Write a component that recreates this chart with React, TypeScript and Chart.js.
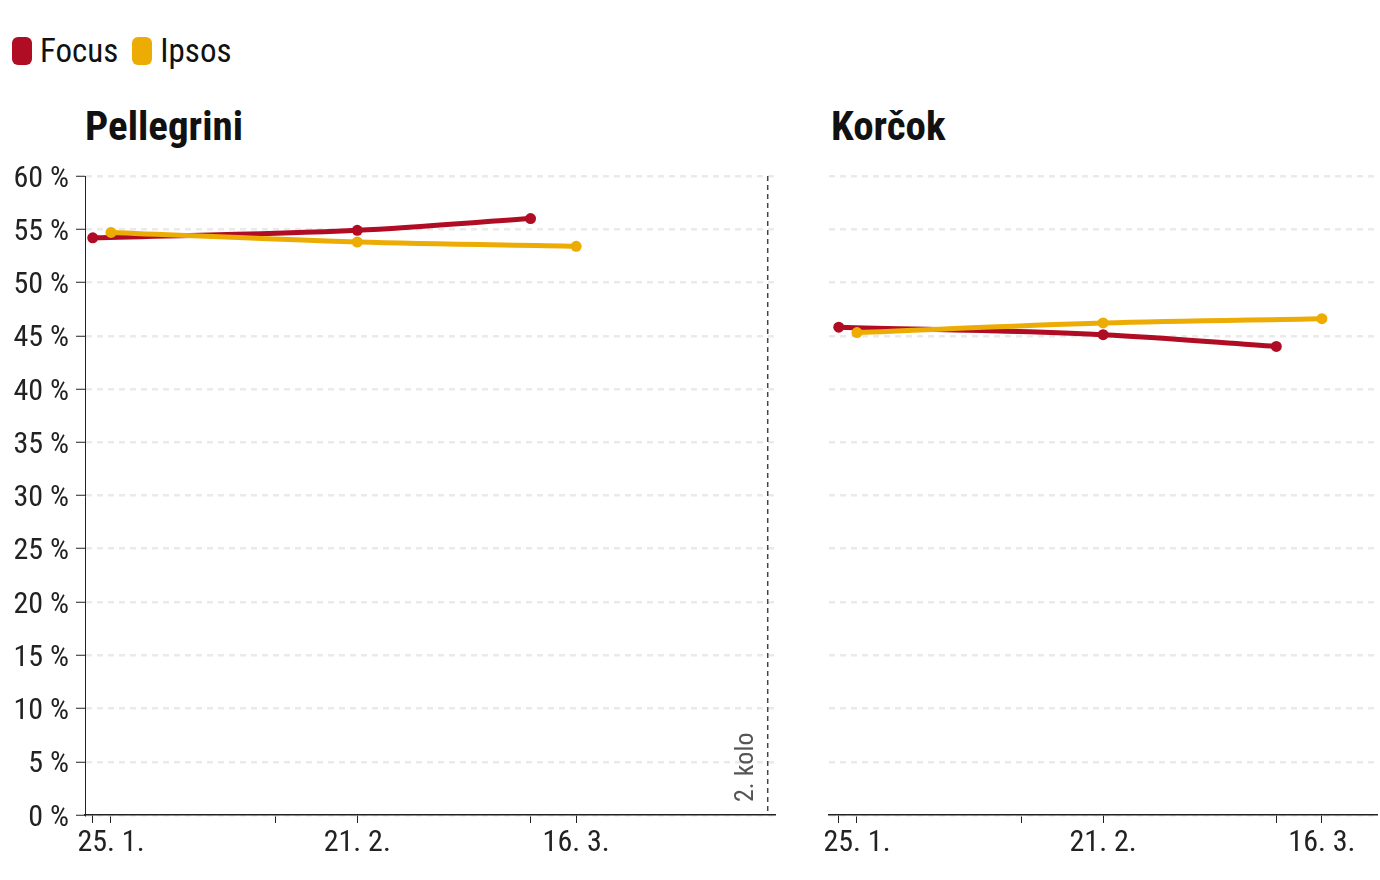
import { useEffect, useRef } from "react";
import Chart from "chart.js/auto";
import type { ChartConfiguration, Plugin } from "chart.js";

// dni v roku 2024 (1 = 1. 1.)
const FOCUS_DAYS = [23, 52, 71];
const IPSOS_DAYS = [25, 52, 76];

const PELLEGRINI_FOCUS = [54.2, 54.9, 56.0];
const PELLEGRINI_IPSOS = [54.7, 53.8, 53.4];
const KORCOK_FOCUS = [45.8, 45.1, 44.0];
const KORCOK_IPSOS = [45.3, 46.2, 46.6];

const TICK_DAYS = [23, 25, 43, 52, 71, 76];
const LABEL_DAYS = [25, 52, 76];
const LABEL_TEXTS = ["25. 1.", "21. 2.", "16. 3."];

const ROUND2_DAY = 97;
const ROUND2_LABEL = "2. kolo";

const FOCUS_COLOR = "#b00c23";
const IPSOS_COLOR = "#edac04";
const FONT = "'Roboto Condensed', Roboto, 'Noto Sans', sans-serif";

const round2Plugin: Plugin<"line"> = {
  id: "round2",
  afterDatasetsDraw(chart) {
    const { ctx, chartArea } = chart;
    const x = chart.scales.x.getPixelForValue(ROUND2_DAY);
    ctx.save();
    ctx.strokeStyle = "#444";
    ctx.lineWidth = 1.5;
    ctx.setLineDash([5, 4]);
    ctx.beginPath();
    ctx.moveTo(x, chartArea.top);
    ctx.lineTo(x, chartArea.bottom);
    ctx.stroke();
    ctx.setLineDash([]);
    ctx.translate(x - 21, chartArea.bottom - 13);
    ctx.rotate(-Math.PI / 2);
    ctx.fillStyle = "#555";
    ctx.font = `26px ${FONT}`;
    ctx.textAlign = "left";
    ctx.textBaseline = "middle";
    ctx.fillText(ROUND2_LABEL, 0, 0);
    ctx.restore();
  },
};

interface PanelProps {
  focus: number[];
  ipsos: number[];
  xMin: number;
  xMax: number;
  showY: boolean;
  showRound2: boolean;
  padLeft: number;
  padRight: number;
}

function Panel({ focus, ipsos, xMin, xMax, showY, showRound2, padLeft, padRight }: PanelProps) {
  const canvasRef = useRef<HTMLCanvasElement | null>(null);

  useEffect(() => {
    if (!canvasRef.current) return;
    Chart.defaults.font.family = FONT;

    const config: ChartConfiguration<"line"> = {
      type: "line",
      data: {
        datasets: [
          {
            label: "Focus",
            data: FOCUS_DAYS.map((d, i) => ({ x: d, y: focus[i] })),
            borderColor: FOCUS_COLOR,
            backgroundColor: FOCUS_COLOR,
            borderWidth: 5,
            pointRadius: 5.5,
            pointBorderWidth: 0,
            cubicInterpolationMode: "monotone",
            order: 2,
          },
          {
            label: "Ipsos",
            data: IPSOS_DAYS.map((d, i) => ({ x: d, y: ipsos[i] })),
            borderColor: IPSOS_COLOR,
            backgroundColor: IPSOS_COLOR,
            borderWidth: 5,
            pointRadius: 5.5,
            pointBorderWidth: 0,
            cubicInterpolationMode: "monotone",
            order: 1,
          },
        ],
      },
      options: {
        animation: false,
        responsive: true,
        maintainAspectRatio: false,
        layout: { padding: { top: 16, left: padLeft, right: padRight, bottom: 0 } },
        plugins: {
          legend: { display: false },
          tooltip: { enabled: false },
        },
        scales: {
          x: {
            type: "linear",
            min: xMin,
            max: xMax,
            afterBuildTicks: (scale) => {
              scale.ticks = TICK_DAYS.map((v) => ({ value: v }));
            },
            afterFit: (scale) => {
              scale.height = 50;
              scale.paddingLeft = 0;
              scale.paddingRight = 0;
            },
            grid: {
              drawOnChartArea: false,
              drawTicks: true,
              tickLength: 8,
              tickColor: "#222",
              tickWidth: 1,
            },
            border: { display: true, color: "#222", width: 1.5 },
            ticks: {
              autoSkip: false,
              maxRotation: 0,
              padding: 2,
              color: "#222",
              font: { size: 30 },
              callback: (v) => {
                const i = LABEL_DAYS.indexOf(Number(v));
                return i >= 0 ? LABEL_TEXTS[i] : "";
              },
            },
          },
          y: {
            min: 0,
            max: 60,
            afterFit: (scale) => {
              scale.width = showY ? 85 : 0;
              scale.paddingTop = 0;
              scale.paddingBottom = 0;
            },
            grid: {
              color: "#eaeaea",
              lineWidth: 2.5,
              drawTicks: showY,
              tickLength: 9,
              tickColor: "#222",
              tickWidth: 1,
            },
            border: { display: showY, color: "#222", width: 1, dash: [6, 5] },
            ticks: {
              display: showY,
              stepSize: 5,
              padding: 7,
              labelOffset: 3,
              color: "#222",
              font: { size: 30 },
              callback: (v) => `${v} %`,
            },
          },
        },
      },
      plugins: showRound2 ? [round2Plugin] : [],
    };

    const chart = new Chart(canvasRef.current, config);
    return () => {
      chart.destroy();
    };
  }, [focus, ipsos, xMin, xMax, showY, showRound2, padLeft, padRight]);

  return <canvas ref={canvasRef} />;
}

function LegendItem({ color, text }: { color: string; text: string }) {
  return (
    <div style={{ display: "flex", alignItems: "center", marginRight: 14 }}>
      <span
        style={{
          display: "inline-block",
          width: 20,
          height: 28,
          borderRadius: 6,
          background: color,
          marginRight: 8,
        }}
      />
      <span style={{ fontSize: 33, color: "#111", lineHeight: "33px" }}>{text}</span>
    </div>
  );
}

const titleStyle: React.CSSProperties = {
  position: "absolute",
  top: 106,
  fontSize: 41,
  fontWeight: 700,
  lineHeight: "41px",
  color: "#111",
};

export default function App() {
  return (
    <div
      style={{
        position: "fixed",
        left: 0,
        top: 0,
        width: 1380,
        height: 880,
        overflow: "hidden",
        background: "#fff",
        fontFamily: FONT,
      }}
    >
      <div style={{ position: "absolute", left: 12, top: 34, display: "flex" }}>
        <LegendItem color={FOCUS_COLOR} text="Focus" />
        <LegendItem color={IPSOS_COLOR} text="Ipsos" />
      </div>
      <div style={{ ...titleStyle, left: 85 }}>Pellegrini</div>
      <div style={{ ...titleStyle, left: 831 }}>Korčok</div>
      <div style={{ position: "absolute", left: 0, top: 160, width: 790, height: 705 }}>
        <Panel
          focus={PELLEGRINI_FOCUS}
          ipsos={PELLEGRINI_IPSOS}
          xMin={22.15}
          xMax={97.8}
          showY={true}
          showRound2={true}
          padLeft={0}
          padRight={15}
        />
      </div>
      <div style={{ position: "absolute", left: 800, top: 160, width: 583, height: 705 }}>
        <Panel
          focus={KORCOK_FOCUS}
          ipsos={KORCOK_IPSOS}
          xMin={21.93}
          xMax={82.1}
          showY={false}
          showRound2={false}
          padLeft={29}
          padRight={0}
        />
      </div>
    </div>
  );
}
